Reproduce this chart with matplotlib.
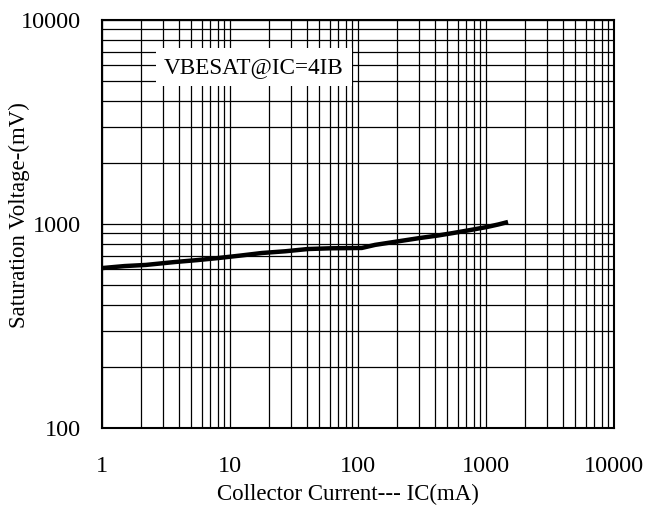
import matplotlib
matplotlib.use("Agg")
import matplotlib.pyplot as plt
from matplotlib.ticker import FixedLocator, NullFormatter, LogLocator

plt.rcParams['font.family'] = ['Liberation Serif', 'DejaVu Serif']

# curve
ic_ma = [1, 1.5, 2.2, 3.7, 5.5, 8.1, 12, 17.8, 27, 40.7, 60, 107, 136, 200, 305, 420, 552, 760, 1018, 1250, 1486]
vbesat_mv = [608, 622, 630, 651, 665, 681, 700, 721, 735, 754, 760, 763, 790, 820, 854, 878, 903, 935, 967, 995, 1023]

x_ticks = [1, 10, 100, 1000, 10000]
y_ticks = [100, 1000, 10000]

W, H = 646, 509
fig = plt.figure(figsize=(W / 100, H / 100), dpi=100)
ax = fig.add_axes([102 / W, 1 - 428 / H, 512 / W, 408 / H])

ax.plot(ic_ma, vbesat_mv, color='black', linewidth=3.2, solid_capstyle='butt')

ax.set_xscale('log')
ax.set_yscale('log')
ax.set_xlim(1, 10000)
ax.set_ylim(100, 10000)

ax.xaxis.set_major_locator(FixedLocator(x_ticks))
ax.yaxis.set_major_locator(FixedLocator(y_ticks))
ax.set_xticklabels([str(v) for v in x_ticks])
ax.set_yticklabels([str(v) for v in y_ticks])
ax.xaxis.set_minor_locator(LogLocator(base=10, subs=range(2, 10)))
ax.yaxis.set_minor_locator(LogLocator(base=10, subs=range(2, 10)))
ax.xaxis.set_minor_formatter(NullFormatter())
ax.yaxis.set_minor_formatter(NullFormatter())

ax.grid(True, which='both', color='black', linewidth=0.9)
ax.tick_params(which='both', length=0, labelsize=17.5)
ax.tick_params(axis='x', pad=20)
ax.tick_params(axis='y', pad=15)
for s in ax.spines.values():
    s.set_linewidth(1.5)

# axis titles placed by hand
fig.text(348 / W, 1 - 494 / H, 'Collector Current--- IC(mA)', fontsize=16.5,
         ha='center', va='center')
fig.text(19 / W, 1 - 215 / H, 'Saturation Voltage-(mV)', fontsize=16.5,
         ha='center', va='center', rotation=90)

ax.text(0.121, 0.884, 'VBESAT@IC=4IB', transform=ax.transAxes, fontsize=16.7,
        ha='left', va='center', zorder=5,
        bbox=dict(facecolor='white', edgecolor='none', pad=6))

fig.savefig('out.png', dpi=100)
